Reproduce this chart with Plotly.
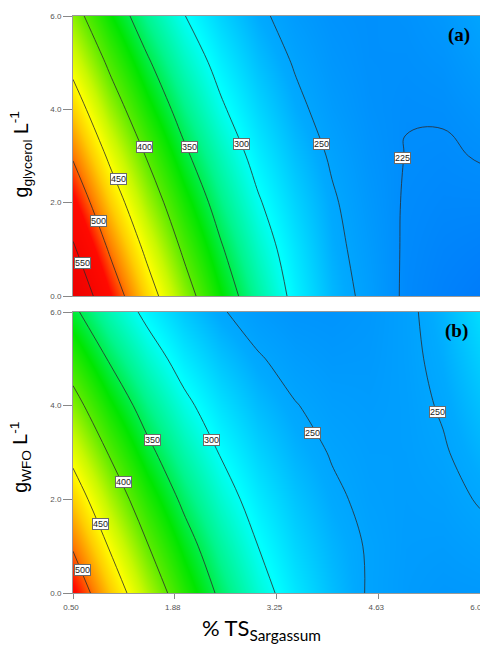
import plotly.graph_objects as go

# ---------------- data ----------------
TS_SARGASSUM = [0.5, 1.0, 1.5, 2.0, 2.5, 3.0, 3.5, 4.0, 4.5, 5.0, 5.5, 6.0]
G_PER_L = [0, 1, 2, 3, 4, 5, 6]

# panel (a): g glycerol L-1  (rows = G_PER_L, cols = TS_SARGASSUM)
Z_GLYCEROL = [
    [584, 522, 466, 415, 369, 329, 292, 262, 243, 221, 213, 207],
    [555, 496, 443, 395, 353, 316, 285, 257, 240, 222, 216, 213],
    [526, 470, 420, 376, 337, 303, 276, 253, 236.5, 223, 219.5, 219.5],
    [497, 444, 398, 356, 321, 290, 266, 247, 233, 224.5, 222.8, 226],
    [468, 418, 375, 337, 304, 277.5, 256, 240, 230, 225.6, 226.6, 232.5],
    [440, 394, 354, 319, 290, 266, 248, 235, 228.5, 228, 231, 240.5],
    [413, 370, 333, 301, 275.5, 255, 240, 231, 228, 230, 236, 249],
]

# panel (b): g WFO L-1
Z_WFO = [
    [525, 472, 424, 381, 344, 312, 286, 265, 248, 240, 236, 237],
    [497, 447, 402, 363, 329, 300, 277, 260, 248, 241, 240, 244],
    [469, 422, 380, 344, 313, 288, 268.5, 254, 245, 242, 244, 251.5],
    [440.5, 397, 358, 325.5, 298, 276, 259.5, 248.5, 243, 243, 248, 259],
    [412, 372, 337, 307, 283, 264, 251, 243, 240.5, 243.5, 252, 266],
    [384, 347, 315, 288, 267.5, 252, 242, 237, 238, 244.5, 256, 273.5],
    [356, 322, 293, 270, 252, 240, 233, 232, 236, 245, 260, 281],
]

X_TICKS = [0.5, 1.875, 3.25, 4.625, 6.0]
X_TICK_LABELS = ["0.50", "1.88", "3.25", "4.63", "6.00"]
Y_TICKS = [0, 2, 4, 6]
Y_TICK_LABELS = ["0.0", "2.0", "4.0", "6.0"]

LEVELS_A = [250, 550, 50]      # start, end, step
EXTRA_LEVEL_A = 225
LEVELS_B = [250, 500, 50]

LABEL_VALUES_A = [550, 500, 450, 400, 350, 300, 250, 225]
LABEL_VALUES_B = [500, 450, 400, 350, 300, 250, 250]

# ---------------- label placement (data coordinates) ----------------
LABEL_POS_A = [(0.635, 0.71), (0.85, 1.61), (1.11, 2.51), (1.46, 3.19),
               (2.07, 3.19), (2.78, 3.26), (3.86, 3.26), (4.95, 2.96)]
LABEL_POS_B = [(0.635, 0.485), (0.865, 1.47), (1.18, 2.37), (1.57, 3.26),
               (2.37, 3.26), (3.73, 3.42), (5.42, 3.87)]

# ---------------- styles ----------------
ZMIN, ZMAX = 205, 585
COLOR_STOPS = [
    (205, "rgb(0,122,250)"),
    (255, "rgb(0,170,255)"),
    (298, "rgb(0,255,255)"),
    (335, "rgb(0,245,140)"),
    (368, "rgb(0,230,0)"),
    (400, "rgb(90,235,0)"),
    (430, "rgb(200,248,0)"),
    (450, "rgb(255,255,0)"),
    (470, "rgb(255,205,0)"),
    (495, "rgb(255,125,0)"),
    (520, "rgb(255,10,0)"),
    (585, "rgb(235,0,0)"),
]
COLORSCALE = [[(v - ZMIN) / (ZMAX - ZMIN), c] for v, c in COLOR_STOPS]
LINE = dict(color="#2b2b2b", width=0.8)
TICKFONT = dict(family="Liberation Sans", size=8, color="#555")

fig = go.Figure()

def add_panel(z, xa, ya, levels, extra=None):
    fig.add_trace(go.Heatmap(
        x=TS_SARGASSUM, y=G_PER_L, z=z, zmin=ZMIN, zmax=ZMAX,
        colorscale=COLORSCALE, zsmooth="best", showscale=False,
        hoverinfo="skip", xaxis=xa, yaxis=ya))
    fig.add_trace(go.Contour(
        x=TS_SARGASSUM, y=G_PER_L, z=z, autocontour=False,
        contours=dict(start=levels[0], end=levels[1], size=levels[2],
                      coloring="none", showlabels=False),
        line=dict(LINE, smoothing=1.0), showscale=False, hoverinfo="skip",
        xaxis=xa, yaxis=ya))
    if extra is not None:
        fig.add_trace(go.Contour(
            x=TS_SARGASSUM, y=G_PER_L, z=z, autocontour=False,
            contours=dict(start=extra, end=extra, size=1,
                          coloring="none", showlabels=False),
            line=dict(LINE, smoothing=1.3), showscale=False, hoverinfo="skip",
            xaxis=xa, yaxis=ya))

add_panel(Z_GLYCEROL, "x", "y", LEVELS_A, EXTRA_LEVEL_A)
add_panel(Z_WFO, "x2", "y2", LEVELS_B)

annotations = []
label_style = dict(showarrow=False, bgcolor="white", bordercolor="#6a6a6a",
                   borderwidth=1, borderpad=0,
                   font=dict(family="Liberation Sans", size=9, color="#222"))
for v, (x, y) in zip(LABEL_VALUES_A, LABEL_POS_A):
    annotations.append(dict(text=str(v), x=x, y=y, xref="x", yref="y", **label_style))
for v, (x, y) in zip(LABEL_VALUES_B, LABEL_POS_B):
    annotations.append(dict(text=str(v), x=x, y=y, xref="x2", yref="y2", **label_style))

panel_font = dict(family="Liberation Serif", size=19, color="black")
annotations.append(dict(text="<b>(a)</b>", xref="x domain", yref="y domain", x=1, y=1,
                        xanchor="right", yanchor="top", xshift=-8, yshift=-6,
                        showarrow=False, font=panel_font))
annotations.append(dict(text="<b>(b)</b>", xref="x2 domain", yref="y2 domain", x=1, y=1,
                        xanchor="right", yanchor="top", xshift=-10, yshift=-6,
                        showarrow=False, font=panel_font))

title_font = dict(family="Liberation Sans", size=19.5, color="black")
annotations.append(dict(text="g<sub>glycerol</sub> L<sup>-1</sup>", xref="paper", yref="paper",
                        x=-0.128, y=0.76, xanchor="center", yanchor="middle",
                        textangle=-90, showarrow=False, font=title_font))
annotations.append(dict(text="g<sub>WFO</sub> L<sup>-1</sup>", xref="paper", yref="paper",
                        x=-0.128, y=0.236, xanchor="center", yanchor="middle",
                        textangle=-90, showarrow=False, font=title_font))
annotations.append(dict(text="% TS<sub>Sargassum</sub>", xref="paper", yref="paper",
                        x=0.462, y=-0.062, xanchor="center", yanchor="middle",
                        showarrow=False,
                        font=dict(family="Lato", size=22, color="black")))

axis_common = dict(showline=True, mirror=True, linecolor="#9a9a9a", linewidth=1,
                   showgrid=False, zeroline=False, tickfont=TICKFONT,
                   ticks="outside", tickcolor="#888", tickwidth=1,
                   ticklabeloverflow="allow", automargin=False)

# the page body adds an 8px offset, so margins are shifted by 8px
fig.update_layout(
    template="none",
    width=488, height=640,
    margin=dict(l=65, r=16, t=8, b=55, autoexpand=False),
    paper_bgcolor="white", plot_bgcolor="white",
    showlegend=False,
    xaxis=dict(axis_common, domain=[0, 1], range=[0.5, 6.0], anchor="y",
               tickvals=X_TICKS, showticklabels=False, ticks=""),
    yaxis=dict(axis_common, domain=[0.5147, 1], range=[0, 6], anchor="x",
               tickvals=Y_TICKS, ticktext=Y_TICK_LABELS, ticklen=9),
    xaxis2=dict(axis_common, domain=[0, 1], range=[0.5, 6.0], anchor="y2",
                tickvals=X_TICKS, ticktext=X_TICK_LABELS, ticklen=5,
                ticklabelstandoff=1, ticklabelshift=-2),
    yaxis2=dict(axis_common, domain=[0, 0.487], range=[0, 6], anchor="x2",
                tickvals=Y_TICKS, ticktext=Y_TICK_LABELS, ticklen=9),
    annotations=annotations,
)

fig.write_html("out.html")
